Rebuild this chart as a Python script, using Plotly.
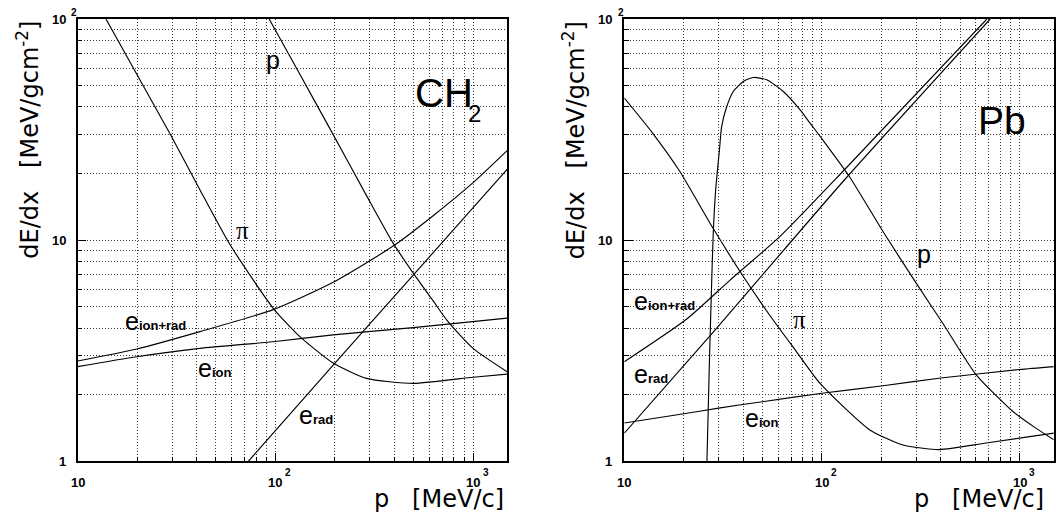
import numpy as np
import plotly.graph_objects as go

# ---------------- CH2 : stopping power vs momentum ----------------
ch2_proton_p = [93, 130, 196, 289, 394, 498, 628, 747, 1000, 1486]
ch2_proton_dedx = [100, 58.3, 30.0, 15.9, 9.69, 7.09, 5.31, 4.28, 3.24, 2.54]

ch2_pion_p = [13.9, 29.3, 41.5, 58.9, 97.5, 133, 196, 289, 498, 1000, 1486]
ch2_pion_dedx = [100, 30.3, 16.9, 9.55, 4.92, 3.66, 2.78, 2.37, 2.25, 2.40, 2.48]

ch2_etot_p = [10, 19.9, 41.5, 97.5, 196, 394, 628, 1000, 1486]
ch2_etot_dedx = [2.84, 3.22, 3.86, 4.85, 6.45, 9.4, 12.9, 18.2, 25.4]

ch2_eion_p = [10, 19.9, 41.5, 100, 196, 498, 1486]
ch2_eion_dedx = [2.68, 2.97, 3.24, 3.48, 3.73, 4.02, 4.44]

ch2_erad_p = [72.9, 196, 498, 1486]
ch2_erad_dedx = [1.0, 2.72, 6.95, 20.9]

# ---------------- Pb : stopping power vs momentum ----------------
pb_proton_p = [26.2, 26.9, 27.7, 28.2, 29.0, 30.3, 31.1, 33.0, 35.6, 40.0, 45.0,
               52.6, 63.8, 77.6, 87.1, 101, 137.7, 203, 300, 409, 604, 926, 1200, 1493]
pb_proton_dedx = [1.0, 2.6, 6.6, 10.8, 16.9, 25.6, 32.7, 40.2, 47.0, 52.2, 54.4,
                  53.1, 47.0, 38.8, 33.8, 28.4, 19.4, 11.0, 6.39, 4.21, 2.46, 1.68, 1.42, 1.25]

pb_pion_p = [10, 13.9, 19.0, 28.0, 39.8, 54.2, 74.0, 97.9, 174, 257, 394, 678, 1493]
pb_pion_dedx = [43.9, 30.5, 20.6, 11.4, 6.9, 4.6, 3.15, 2.25, 1.39, 1.185, 1.13, 1.21, 1.34]

pb_etot_p = [10, 20.7, 34.3, 61.4, 132.6, 684]
pb_etot_dedx = [2.82, 4.4, 6.6, 10.4, 21.2, 100]

pb_eion_p = [10, 20, 30, 50, 100, 200, 400, 1000, 1493]
pb_eion_dedx = [1.49, 1.64, 1.74, 1.86, 2.03, 2.19, 2.38, 2.60, 2.68]

pb_erad_p = [10, 27.2, 132.6, 711]
pb_erad_dedx = [1.34, 3.7, 19.1, 100]

# axis decorations
x_major = [10, 100, 1000]
x_major_text = ["10", "10", "10"]
x_major_exp = ["", "2", "3"]
y_major = [1, 10, 100]
y_major_text = ["1", "10", "10"]
y_major_exp = ["", "", "2"]
x_minor = [m * d for d in (10, 100) for m in range(2, 10)] + [1000]
y_minor = [m * d for d in (1, 10) for m in range(2, 10)]

# curve labels: (text, subscript, p, dE/dx) per panel
ch2_labels = [
    ("e", "ion+rad", 17.0, 4.30),
    ("e", "ion", 39.6, 2.64),
    ("e", "rad", 129, 1.615),
]
pb_labels = [
    ("e", "ion+rad", 10.94, 5.30),
    ("e", "rad", 11.0, 2.47),
    ("e", "ion", 40.1, 1.57),
]
ch2_greek = [("p", 97.1, 65.4), ("\u03c0", 68.1, 11.0)]
pb_greek = [("p", 327, 8.67), ("\u03c0", 76.7, 4.38)]

panels = [
    dict(xa="x", ya="y",
         curves=[(ch2_proton_p, ch2_proton_dedx), (ch2_pion_p, ch2_pion_dedx),
                 (ch2_etot_p, ch2_etot_dedx), (ch2_eion_p, ch2_eion_dedx),
                 (ch2_erad_p, ch2_erad_dedx)],
         labels=ch2_labels, greek=ch2_greek, title_shift=-1.5),
    dict(xa="x2", ya="y2",
         curves=[(pb_proton_p, pb_proton_dedx), (pb_pion_p, pb_pion_dedx),
                 (pb_etot_p, pb_etot_dedx), (pb_eion_p, pb_eion_dedx),
                 (pb_erad_p, pb_erad_dedx)],
         labels=pb_labels, greek=pb_greek, title_shift=-8),
]

fig = go.Figure()
LINE = dict(color="black", width=1.15, shape="spline", smoothing=0.6)

for pan in panels:
    for xs, ys in pan["curves"]:
        fig.add_trace(go.Scatter(x=xs, y=ys, mode="lines", line=LINE,
                                 xaxis=pan["xa"], yaxis=pan["ya"],
                                 hoverinfo="skip", showlegend=False))

SANS = "Liberation Sans, Arial, sans-serif"
TITLE_FONT = dict(family="DejaVu Sans, sans-serif", size=24, color="black")
TICK_FONT = dict(family=SANS, size=13, color="black", weight="bold")
SUP_FONT = dict(family=SANS, size=10, color="black", weight="bold")

ann = []
for pan in panels:
    xa, ya = pan["xa"], pan["ya"]
    xd, yd = xa + " domain", ya + " domain"
    # x tick labels
    for v, t, e in zip(x_major, x_major_text, x_major_exp):
        ann.append(dict(x=np.log10(v), y=0, xref=xa, yref=yd, text=t,
                        xanchor="center", yanchor="middle", yshift=-21,
                        showarrow=False, font=TICK_FONT))
        if e:
            ann.append(dict(x=np.log10(v), y=0, xref=xa, yref=yd, text=e,
                            xanchor="center", yanchor="middle", xshift=12.5,
                            yshift=-11.5, showarrow=False, font=SUP_FONT))
    # y tick labels
    for v, t, e in zip(y_major, y_major_text, y_major_exp):
        ann.append(dict(x=0, y=np.log10(v), xref=xd, yref=ya, text=t,
                        xanchor="right", yanchor="middle", xshift=-10,
                        yshift=-0.5, showarrow=False, font=TICK_FONT))
        if e:
            ann.append(dict(x=0, y=np.log10(v), xref=xd, yref=ya, text=e,
                            xanchor="center", yanchor="middle", xshift=-3.5,
                            yshift=6.5, showarrow=False, font=SUP_FONT))
    # axis titles
    ann.append(dict(x=0, y=1, xref=xd, yref=yd, textangle=-90,
                    text="dE/dx   [MeV/gcm<sup>-2</sup>]",
                    xanchor="center", yanchor="top", xshift=-50, yshift=0,
                    showarrow=False, font=TITLE_FONT))
    ann.append(dict(x=1, y=0, xref=xd, yref=yd, text="p   [MeV/c]",
                    xanchor="right", yanchor="middle", xshift=pan["title_shift"],
                    yshift=-38, showarrow=False, font=TITLE_FONT))
    # curve labels
    for base, sub, p, d in pan["labels"]:
        ann.append(dict(x=np.log10(p), y=np.log10(d), xref=xa, yref=ya,
                        text=base + "<b><span style='font-size:13px'>" + sub + "</span></b>",
                        xanchor="left", yanchor="middle", showarrow=False,
                        font=dict(family=SANS, size=25, color="black")))
    for t, p, d in pan["greek"]:
        fam = SANS if t == "p" else "Liberation Serif, serif"
        ann.append(dict(x=np.log10(p), y=np.log10(d), xref=xa, yref=ya, text=t,
                        xanchor="center", yanchor="middle", showarrow=False,
                        font=dict(family=fam, size=25, color="black")))

# material names
ann.append(dict(x=np.log10(495), y=np.log10(46.3), xref="x", yref="y", text="CH",
                xanchor="left", yanchor="middle", showarrow=False,
                font=dict(family=SANS, size=40, color="black")))
ann.append(dict(x=np.log10(918), y=np.log10(37.3), xref="x", yref="y", text="2",
                xanchor="left", yanchor="middle", showarrow=False,
                font=dict(family=SANS, size=24, color="black")))
ann.append(dict(x=np.log10(600), y=np.log10(34.6), xref="x2", yref="y2", text="Pb",
                xanchor="left", yanchor="middle", showarrow=False,
                font=dict(family=SANS, size=39, color="black")))

GRID = dict(showgrid=True, gridcolor="#3a3a3a", gridwidth=1, griddash="1px,2px")


def xaxis(domain, anchor):
    return dict(type="log", range=[1, 3.173], domain=domain, anchor=anchor,
                showline=True, linecolor="black", linewidth=1.5, mirror=True,
                tickvals=x_major, ticks="inside", ticklen=9, tickcolor="black",
                showticklabels=False, zeroline=False,
                minor=dict(tickvals=x_minor, ticks="inside", ticklen=5,
                           tickcolor="black", **GRID),
                **GRID)


def yaxis(anchor):
    return dict(type="log", range=[0, 2], domain=[0.10601, 0.96318], anchor=anchor,
                showline=True, linecolor="black", linewidth=1.5, mirror=True,
                tickvals=y_major, ticks="inside", ticklen=9, tickcolor="black",
                showticklabels=False, zeroline=False,
                minor=dict(tickvals=y_minor, ticks="inside", ticklen=5,
                           tickcolor="black", **GRID),
                **GRID)


fig.update_layout(
    width=1056, height=516,
    margin=dict(l=0, r=0, t=0, b=0),
    paper_bgcolor="white", plot_bgcolor="white",
    showlegend=False,
    xaxis=xaxis([0.07358, 0.48040], "y"),
    yaxis=yaxis("x"),
    xaxis2=xaxis([0.59119, 0.99782], "y2"),
    yaxis2=yaxis("x2"),
    annotations=ann,
)

fig.write_html("out.html")
